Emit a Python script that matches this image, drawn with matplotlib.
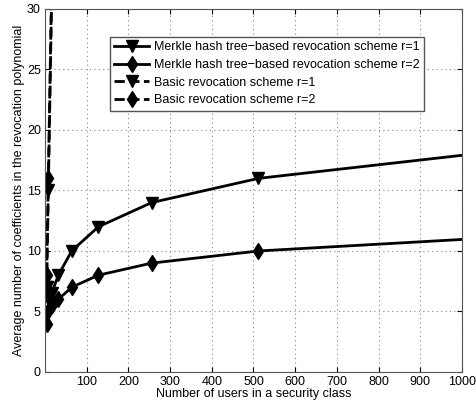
import matplotlib.pyplot as plt

plt.rcParams['font.family'] = ['Liberation Sans', 'DejaVu Sans']

# users per class
n_merkle = [4, 8, 16, 32, 64, 128, 256, 512, 1024]
merkle_r1 = [7, 6, 6.5, 8, 10, 12, 14, 16, 18]
merkle_r2 = [4, 5, 5.5, 6, 7, 8, 9, 10, 11]

n_basic = [4, 8, 16, 32]
basic_r1 = [7, 15, 31, 63]
basic_r2 = [8, 16, 32, 64]

xticks = [100, 200, 300, 400, 500, 600, 700, 800, 900, 1000]
yticks = [0, 5, 10, 15, 20, 25, 30]

fig = plt.figure(figsize=(4.76, 4.07), dpi=100)
ax = fig.add_axes([0.0945, 0.086, 0.876, 0.892])

ax.plot(n_merkle, merkle_r1, 'k-v', lw=2, ms=8, label='Merkle hash tree\u2212based revocation scheme r=1')
ax.plot(n_merkle, merkle_r2, 'k-d', lw=2, ms=8, label='Merkle hash tree\u2212based revocation scheme r=2')
ax.plot(n_basic, basic_r1, 'k--v', lw=2, ms=8, label='Basic revocation scheme r=1')
ax.plot(n_basic, basic_r2, 'k--d', lw=2, ms=8, label='Basic revocation scheme r=2')

ax.set_xlim(0, 1000)
ax.set_ylim(0, 30)
ax.set_xticks(xticks)
ax.set_yticks(yticks)
ax.grid(True, linestyle=(0, (1, 3)), color='#888888', lw=0.8)
ax.tick_params(direction='in', top=True, right=True, labelsize=9, pad=3)
for s in ax.spines.values():
    s.set_color('#555555')

ax.set_xlabel('Number of users in a security class', fontsize=9, labelpad=0)
ax.set_ylabel('Average number of coefficients in the revocation polynomial', fontsize=9, labelpad=1)

leg = ax.legend(loc='upper left', bbox_to_anchor=(0.156, 0.923), borderaxespad=0, fontsize=9,
                fancybox=False, framealpha=1, edgecolor='#555555',
                handlelength=2.8, borderpad=0.35, labelspacing=0.45, handletextpad=0.4)

fig.savefig('out.png', dpi=100)
